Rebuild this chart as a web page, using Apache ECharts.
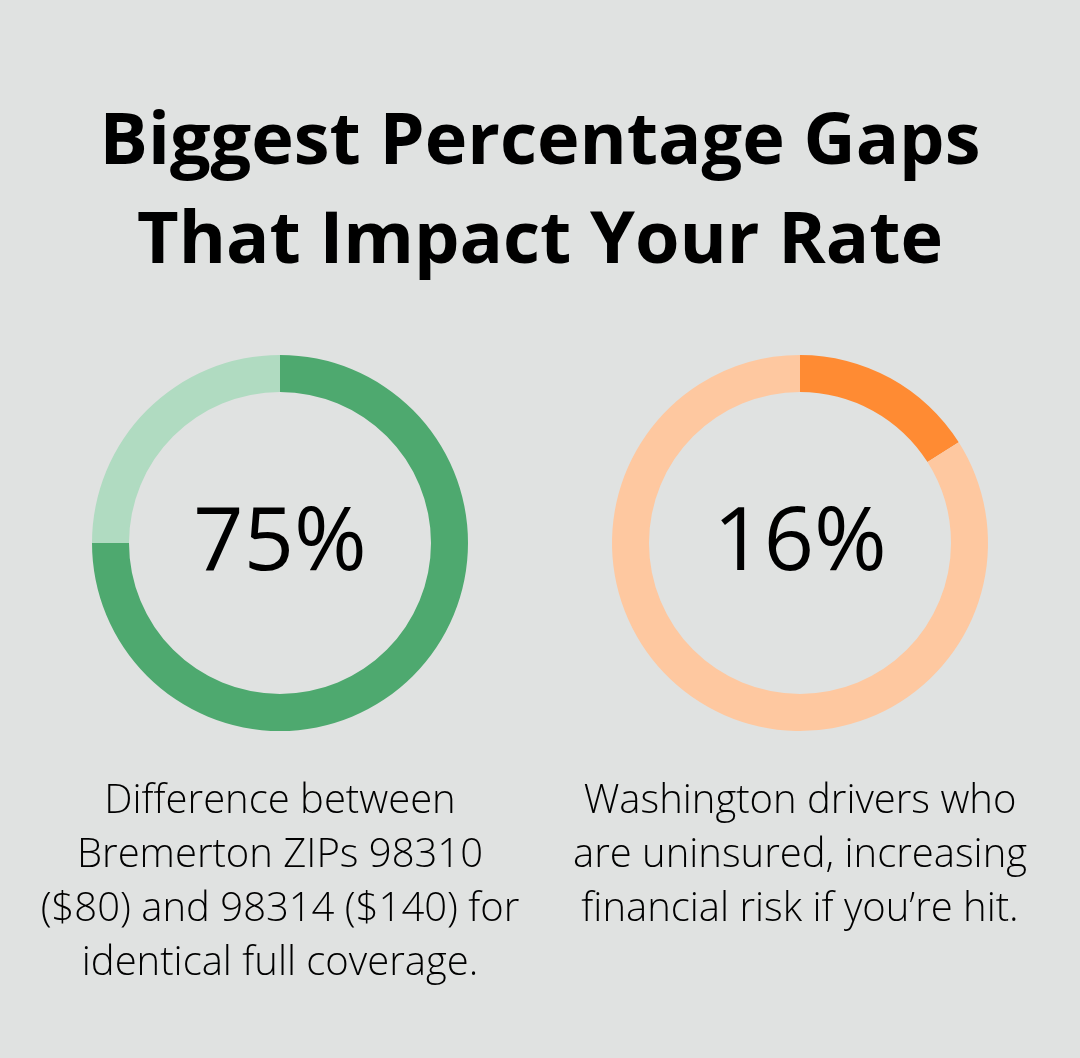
<!DOCTYPE html>
<html>
<head>
<meta charset="utf-8">
<script src="https://cdn.jsdelivr.net/npm/echarts@6/dist/echarts.min.js"></script>
<style>
  html, body { margin: 0; padding: 0; background: #e0e2e1; }
  #main { width: 1080px; height: 1058px; }
</style>
</head>
<body>
<div id="main"></div>
<script>
// 标题
var titleLines = ['Biggest Percentage Gaps', 'That Impact Your Rate'];

// 两个环形图的数据
var shareLabels = ['75%', '16%'];
var shareValues = [75, 16];
var restValues = [25, 84];
var mainColors = ['#4ea96f', '#ff8b33'];
var restColors = ['#b0dbc1', '#fec8a0'];

// 说明文字
var captionLeft = ['Difference between', 'Bremerton ZIPs 98310', '($80) and 98314 ($140) for', 'identical full coverage.'];
var captionRight = ['Washington drivers who', 'are uninsured, increasing', 'financial risk if you\u2019re hit.'];

var centersX = [280, 800];
var centerY = 543;

var chart = echarts.init(document.getElementById('main'));

var series = [];
var titles = [];

for (var i = 0; i < shareValues.length; i++) {
    series.push({
        type: 'pie',
        center: [centersX[i], centerY],
        radius: [151, 188],
        startAngle: 90,
        clockwise: true,
        silent: true,
        label: { show: false },
        labelLine: { show: false },
        itemStyle: { borderWidth: 0 },
        data: [
            { value: shareValues[i], itemStyle: { color: mainColors[i] } },
            { value: restValues[i], itemStyle: { color: restColors[i] } }
        ]
    });
    // 环中间的百分比
    titles.push({
        text: shareLabels[i],
        left: centersX[i],
        top: centerY + 2,
        padding: 0,
        textAlign: 'center',
        textVerticalAlign: 'middle',
        textStyle: {
            fontFamily: 'Open Sans',
            fontSize: 88,
            fontWeight: 'normal',
            color: '#000'
        }
    });
}

titleLines.forEach(function (line, k) {
    titles.push({
        text: line,
        left: 540,
        top: 143 + k * 99,
        padding: 0,
        textAlign: 'center',
        textVerticalAlign: 'middle',
        textStyle: {
            fontFamily: 'Open Sans',
            fontSize: 72,
            fontWeight: 'bold',
            color: '#000'
        }
    });
});

function addCaption(lines, cx) {
    lines.forEach(function (line, k) {
        titles.push({
            text: line,
            left: cx,
            top: 802 + k * 54,
            padding: 0,
            textAlign: 'center',
            textVerticalAlign: 'middle',
            textStyle: {
                fontFamily: 'Open Sans',
                fontSize: 40,
                fontWeight: 300,
                color: '#000'
            }
        });
    });
}
addCaption(captionLeft, 280);
addCaption(captionRight, 800);

chart.setOption({
    backgroundColor: '#e0e2e1',
    animation: false,
    title: titles,
    series: series
});
</script>
</body>
</html>
